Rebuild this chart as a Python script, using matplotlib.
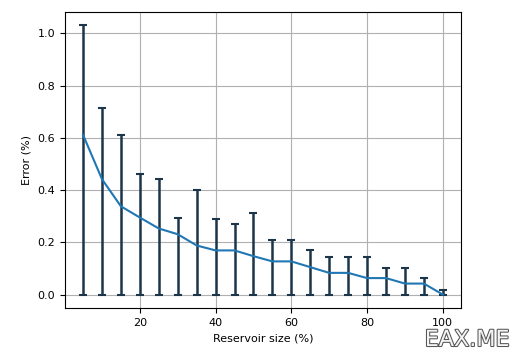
import numpy as np
import matplotlib.pyplot as plt
import matplotlib.patheffects as pe

sizes = [5, 10, 15, 20, 25, 30, 35, 40, 45, 50,
         55, 60, 65, 70, 75, 80, 85, 90, 95, 100]
mean_err = [0.612, 0.442, 0.338, 0.295, 0.253, 0.231, 0.188, 0.169, 0.169, 0.147,
            0.127, 0.127, 0.105, 0.083, 0.083, 0.063, 0.063, 0.042, 0.042, 0.0]
max_err = [1.031, 0.714, 0.610, 0.460, 0.441, 0.295, 0.399, 0.291, 0.272, 0.314,
           0.210, 0.210, 0.169, 0.145, 0.145, 0.145, 0.103, 0.103, 0.062, 0.018]
min_err = [0.0] * len(sizes)

mean = np.array(mean_err)
lower = mean - np.array(min_err)
upper = np.array(max_err) - mean

plt.rcParams["font.size"] = 8

fig, ax = plt.subplots(figsize=(5.12, 3.5), dpi=100)
fig.subplots_adjust(left=0.127, right=0.9, top=0.966, bottom=0.12)

ax.errorbar(sizes, mean, yerr=[lower, upper], ecolor="#1c3549",
            elinewidth=1.8, capsize=3, capthick=1.5, color="#1f77b4")
ax.grid(True)
ax.set_xlabel("Reservoir size (%)")
ax.set_ylabel("Error (%)")

fig.text(0.995, 0.0, "EAX.ME", ha="right", va="bottom", fontsize=16,
         color="#f4f4f4",
         path_effects=[pe.withStroke(linewidth=1.5, foreground="#555555")])

plt.savefig("out.png")
